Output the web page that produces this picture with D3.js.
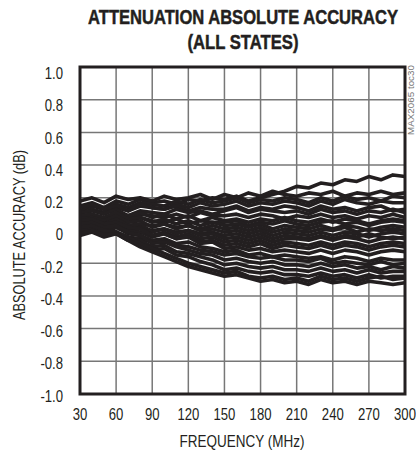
<!DOCTYPE html>
<html lang="en">
<head>
  <meta charset="UTF-8">
  <title>Attenuation Absolute Accuracy</title>
  <script src="https://d3js.org/d3.v7.min.js"></script>
  <style>
    body { margin: 0; background: #fff; }
    text { font-family: "Liberation Sans", Arial, sans-serif; fill: #231f20; }
  </style>
</head>
<body>
<div class="canvas"></div>
<script>
  // frequency points (MHz), one reading every 10 MHz
  const freqs = [30, 40, 50, 60, 70, 80, 90, 100, 110, 120, 130, 140, 150, 160,
                 170, 180, 190, 200, 210, 220, 230, 240, 250, 260, 270, 280, 290, 300]

  const xTicks = [30, 60, 90, 120, 150, 180, 210, 240, 270, 300]
  const yTicks = [-1.0, -0.8, -0.6, -0.4, -0.2, 0, 0.2, 0.4, 0.6, 0.8, 1.0]

  // accuracy per attenuation state, in 0.01 dB
  const states = [
    [15,17,14,18,16,19,17,18,16,19,18,20,19,21,18,20,22,24,27,26,29,28,31,30,33,31,34,33],
    [18,20,17,21,19,20,18,21,19,20,22,19,22,20,23,21,24,22,21,23,22,24,21,23,22,24,22,23],
    [12,15,13,16,14,17,16,15,18,16,19,17,18,20,17,19,18,20,19,17,20,18,21,19,20,18,21,20],
    [10,13,11,14,12,15,14,13,16,14,17,15,16,18,15,17,16,18,17,15,18,16,19,17,16,18,17,17],
    [14,16,13,15,12,16,14,13,15,12,14,13,13,15,12,14,13,15,14,12,15,13,14,12,14,15,12,13],
    [8,10,7,11,9,12,11,10,13,11,12,10,12,14,11,13,12,11,12,10,13,11,12,10,12,11,13,11],
    [6,8,5,9,7,10,9,8,10,8,11,9,9,10,8,10,9,7,9,8,10,8,9,7,9,8,10,8],
    [11,12,10,13,9,11,8,10,7,9,6,8,6,7,5,7,6,8,6,5,7,5,7,6,4,6,7,6],
    [4,6,3,7,5,8,6,5,7,4,6,5,5,6,3,5,4,6,4,3,5,6,4,5,3,5,6,5],
    [9,10,8,11,7,8,5,7,4,6,3,5,3,4,2,4,1,3,2,1,3,1,3,2,0,2,3,2],
    [2,4,1,5,3,4,3,4,2,3,1,3,1,2,0,2,-1,1,0,-1,1,0,2,-1,1,0,1,0],
    [7,8,6,9,5,6,2,4,1,3,0,1,-1,0,-2,0,-3,-1,-2,-3,-1,-3,-1,-2,-4,-2,-1,-2],
    [0,2,-1,3,1,2,0,1,-1,0,-2,-1,-3,-2,-4,-2,-5,-3,-4,-5,-3,-5,-3,-4,-2,-4,-5,-4],
    [5,6,4,7,3,4,-1,1,-2,0,-3,-2,-5,-4,-6,-4,-7,-5,-5,-6,-4,-6,-4,-5,-7,-5,-4,-5],
    [3,5,2,4,0,2,-3,-1,-4,-2,-5,-4,-7,-6,-8,-6,-9,-7,-8,-9,-7,-9,-7,-8,-10,-8,-7,-8],
    [-1,1,-2,2,0,-1,-4,-2,-5,-3,-7,-6,-9,-8,-10,-8,-11,-9,-10,-11,-9,-11,-9,-10,-12,-10,-9,-10],
    [6,7,4,5,2,1,-3,-2,-5,-4,-8,-7,-11,-10,-12,-11,-13,-12,-13,-14,-12,-14,-12,-13,-15,-13,-12,-13],
    [1,3,0,2,-2,-3,-6,-5,-8,-7,-10,-11,-13,-12,-15,-14,-16,-15,-16,-17,-16,-18,-16,-17,-19,-17,-18,-18],
    [-2,0,-3,-1,-4,-5,-7,-6,-9,-10,-12,-13,-15,-14,-16,-17,-16,-18,-18,-19,-17,-20,-19,-20,-21,-19,-21,-20],
    [4,5,2,3,-1,-3,-8,-7,-10,-12,-14,-15,-18,-17,-19,-20,-19,-21,-21,-22,-20,-22,-21,-23,-22,-24,-22,-23],
    [0,1,-2,-1,-5,-6,-10,-9,-13,-14,-16,-18,-21,-20,-22,-23,-22,-24,-24,-25,-23,-25,-24,-26,-24,-26,-25,-25],
    [-3,-1,-4,-2,-6,-8,-12,-11,-15,-16,-19,-21,-24,-23,-25,-26,-25,-27,-27,-28,-26,-28,-27,-29,-27,-29,-28,-28],
    [2,3,0,-1,-4,-8,-11,-14,-17,-20,-22,-24,-26,-25,-28,-29,-28,-30,-29,-31,-28,-30,-29,-31,-29,-28,-30,-29],
    [-2,0,-3,-2,-6,-10,-13,-16,-19,-22,-24,-26,-28,-27,-29,-31,-30,-32,-31,-33,-30,-32,-31,-33,-31,-32,-33,-32]
  ]

  const W = 416, H = 453
  const plot = {left: 80, right: 405, top: 67, bottom: 394}
  const narrow = 0.82   // the chart uses a condensed face

  const svg = d3.select('.canvas')
    .append('svg')
    .attr('width', W)
    .attr('height', H)

  const x = d3.scaleLinear().domain([30, 300]).range([plot.left, plot.right])
  const y = d3.scaleLinear().domain([-1, 1]).range([plot.bottom, plot.top])
  // y labels sit a little below their grid lines, more so at the top
  const yLab = d3.scaleLinear().domain([-1, 1]).range([plot.bottom + 1.5, plot.top + 6])

  // squeeze a text horizontally so it spans the given width
  function fitWidth(sel, cx, cy, width, rotate) {
    const len = sel.node().getComputedTextLength()
    const k = width / len
    sel.attr('text-anchor', 'middle')
      .attr('transform', `translate(${cx}, ${cy})${rotate ? ' rotate(-90)' : ''} scale(${k}, 1)`)
  }

  // title
  const t1 = svg.append('text')
    .style('font-weight', 'bold')
    .style('font-size', '21px')
    .attr('stroke', '#231f20')
    .attr('stroke-width', 0.5)
    .text('ATTENUATION ABSOLUTE ACCURACY')
  fitWidth(t1, 243, 24, 310)
  const t2 = svg.append('text')
    .style('font-weight', 'bold')
    .style('font-size', '21px')
    .attr('stroke', '#231f20')
    .attr('stroke-width', 0.5)
    .text('(ALL STATES)')
  fitWidth(t2, 243, 49, 111)

  // grid
  const grid = svg.append('g')
  grid.selectAll('.vgrid')
    .data(xTicks.slice(1, -1))
    .enter()
    .append('line')
    .attr('x1', d => x(d)).attr('x2', d => x(d))
    .attr('y1', plot.top).attr('y2', plot.bottom)
    .attr('stroke', '#777')
    .attr('stroke-width', 1.5)
  grid.selectAll('.hgrid')
    .data(yTicks.slice(1, -1))
    .enter()
    .append('line')
    .attr('x1', plot.left).attr('x2', plot.right)
    .attr('y1', d => y(d)).attr('y2', d => y(d))
    .attr('stroke', '#777')
    .attr('stroke-width', 1.5)

  // curves
  const line = d3.line()
    .x((d, i) => x(freqs[i]))
    .y(d => y(d / 100))

  svg.append('g')
    .selectAll('path')
    .data(states)
    .enter()
    .append('path')
    .attr('d', line)
    .attr('fill', 'none')
    .attr('stroke', '#231f20')
    .attr('stroke-width', 3.6)
    .attr('stroke-linejoin', 'round')

  // frame
  svg.append('rect')
    .attr('x', plot.left).attr('y', plot.top)
    .attr('width', plot.right - plot.left)
    .attr('height', plot.bottom - plot.top)
    .attr('fill', 'none')
    .attr('stroke', '#231f20')
    .attr('stroke-width', 3)

  // tick labels
  svg.selectAll('.xlab')
    .data(xTicks)
    .enter()
    .append('text')
    .attr('transform', d => `translate(${x(d)}, 420) scale(${narrow}, 1)`)
    .attr('text-anchor', 'middle')
    .style('font-size', '16px')
    .text(d => d)

  svg.selectAll('.ylab')
    .data(yTicks)
    .enter()
    .append('text')
    .attr('transform', d => `translate(63, ${yLab(d) + 6}) scale(${narrow}, 1)`)
    .attr('text-anchor', 'end')
    .style('font-size', '16px')
    .text(d => d === 0 ? '0' : d3.format('.1f')(d).replace('\u2212', '-'))

  // axis titles
  const xt = svg.append('text')
    .style('font-size', '16px')
    .text('FREQUENCY (MHz)')
  fitWidth(xt, 242, 447, 125)

  const yt = svg.append('text')
    .style('font-size', '16px')
    .text('ABSOLUTE ACCURACY (dB)')
  fitWidth(yt, 25, 235, 170, true)

  // figure id
  const id = svg.append('text')
    .style('font-size', '9px')
    .style('fill', '#777')
    .text('MAX2065 toc30')
  fitWidth(id, 414, 100, 70, true)
</script>
</body>
</html>
